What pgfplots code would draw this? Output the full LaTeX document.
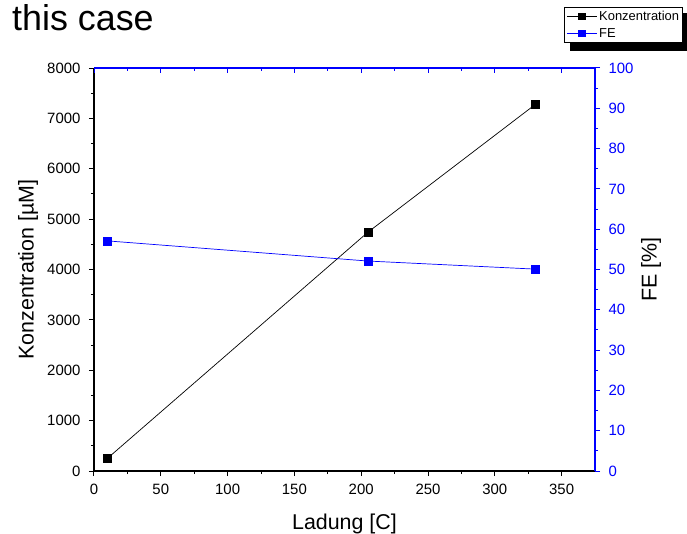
\documentclass[border=0pt]{standalone}
\usepackage{pgfplots}
\pgfplotsset{compat=1.18}
\usepackage{fontspec}
\setmainfont{Liberation Sans}
\definecolor{myblue}{RGB}{0,0,255}
\pgfplotsset{base/.style={scale only axis, width=501bp, height=403bp,
  xmin=0, xmax=375, at={(0,0)}, anchor=south west,
  /pgf/number format/assume math mode=true,
  tick label style={font=\fontsize{15}{18}\selectfont},
  label style={font=\fontsize{21.5}{24}\selectfont},
  major tick length=5bp, minor tick length=3bp,
  xtick={0,50,...,350}, minor x tick num=1,
  clip=false}}
\begin{document}
\begin{tikzpicture}
\path[use as bounding box] (-94bp,-63bp) rectangle (593bp,471bp);
% legend shadow
\fill[black] (476bp,420bp) rectangle (593bp,458bp);
\begin{axis}[base,
  axis x line*=bottom, axis y line*=left, tick align=outside,
  axis line style={-, line width=1.2bp, black},
  tick style={line width=1bp, black},
  ymin=0, ymax=8000, ytick={0,1000,...,8000}, minor y tick num=1,
  scaled y ticks=false,
  yticklabel style={xshift=-5bp, /pgf/number format/.cd, set thousands separator={}},
  xticklabel style={yshift=-5bp},
  xlabel={Ladung [C]}, ylabel={Konzentration [µM]},
  xlabel style={at={(axis description cs:0.5,-0.1464)}, anchor=base},
  ylabel style={at={(axis description cs:-0.1317,0.5)}, anchor=center},
  legend style={at={(axis description cs:1.1756,1.1514)}, anchor=north east,
    draw=black, line width=0.8bp, fill=white,
    font=\fontsize{13}{14}\selectfont, inner sep=1.5bp, row sep=2.5bp,
    cells={anchor=west}},
  legend image code/.code={\draw[mark repeat=2, mark phase=2, mark size=3.3bp, line width=0.8bp]
    plot coordinates {(0bp,0bp)(15bp,0bp)(30bp,0bp)};}
]
\addplot[black, line width=0.7bp, mark=square*, mark size=4bp, mark options={solid}]
  coordinates {(10,250)(205,4740)(330,7270)};
\addlegendentry{Konzentration}
\addlegendimage{myblue, line width=0.7bp, mark=square*, mark options={solid}}
\addlegendentry{FE}
\end{axis}
\begin{axis}[base,
  axis y line*=right, hide x axis, tick align=outside,
  axis line style={-, line width=1.2bp, myblue},
  tick style={line width=1bp, myblue},
  tick label style={myblue},
  yticklabel style={xshift=5bp},
  ymin=0, ymax=100, ytick={0,10,...,100}, minor y tick num=1,
  ylabel={FE [\%]},
  ylabel style={at={(axis description cs:1.1118,0.5)}, anchor=center, black}
]
\addplot[myblue, line width=0.7bp, mark=square*, mark size=4bp, mark options={solid}]
  coordinates {(10,57.1)(205,52.1)(330,50.1)};
\end{axis}
\begin{axis}[base,
  axis x line*=top, hide y axis, tick align=inside,
  axis line style={-, line width=1.2bp, myblue},
  tick style={line width=1bp, myblue},
  xticklabels={}, ymin=0, ymax=1]
\end{axis}
\node[anchor=base west, inner sep=0, font=\fontsize{36}{36}\selectfont] at (-82bp,440bp) {this case};
\end{tikzpicture}
\end{document}
